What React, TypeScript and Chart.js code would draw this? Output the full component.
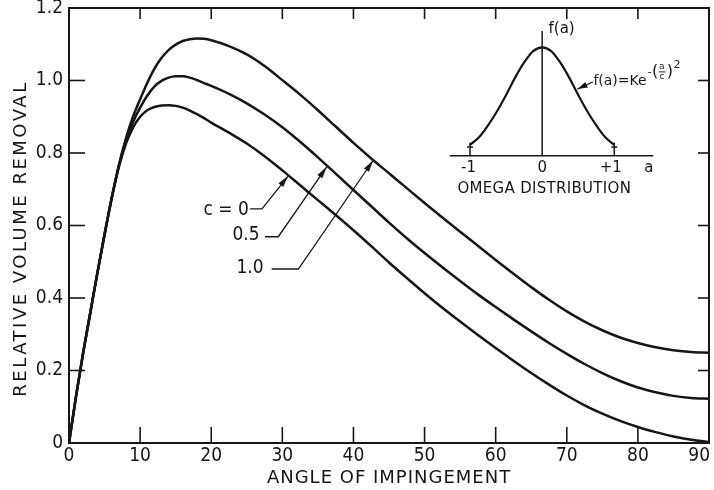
import React, { useEffect, useRef } from 'react';
import { Chart, registerables } from 'chart.js';

Chart.register(...registerables);

// ---------- data ----------
const angles = [0, 1, 2, 3, 4, 5, 6, 7, 8, 9, 10, 11, 12, 13, 14, 15, 16, 17, 18, 19, 20,
  22.5, 25, 27.5, 30, 32.5, 35, 37.5, 40, 42.5, 45, 47.5, 50, 52.5, 55, 57.5, 60, 62.5, 65,
  67.5, 70, 72.5, 75, 77.5, 80, 82.5, 85, 87.5, 90];

const removalC0 = [0, 0.13, 0.25, 0.36, 0.47, 0.575, 0.675, 0.76, 0.825, 0.87, 0.9, 0.918,
  0.927, 0.931, 0.932, 0.93, 0.925, 0.917, 0.907, 0.896, 0.884,
  0.856, 0.826, 0.791, 0.752, 0.711, 0.67, 0.629, 0.587, 0.543, 0.498, 0.455, 0.413, 0.373, 0.335,
  0.298, 0.262, 0.227, 0.193, 0.161, 0.131, 0.104, 0.081, 0.061, 0.044, 0.03, 0.018, 0.009, 0.003];

const removalC05 = [0, 0.13, 0.25, 0.36, 0.47, 0.575, 0.675, 0.765, 0.835, 0.885, 0.925, 0.958,
  0.983, 0.999, 1.008, 1.012, 1.012, 1.008, 1.001, 0.993, 0.985,
  0.963, 0.937, 0.906, 0.871, 0.831, 0.788, 0.743, 0.698, 0.653, 0.608, 0.565, 0.524, 0.485, 0.447,
  0.41, 0.375, 0.341, 0.308, 0.276, 0.246, 0.218, 0.193, 0.171, 0.153, 0.14, 0.13, 0.124, 0.122];

const removalC10 = [0, 0.13, 0.25, 0.36, 0.47, 0.575, 0.675, 0.765, 0.84, 0.9, 0.948, 0.993,
  1.032, 1.062, 1.084, 1.099, 1.109, 1.114, 1.116, 1.115, 1.111,
  1.095, 1.072, 1.04, 1.001, 0.961, 0.918, 0.873, 0.828, 0.785, 0.744, 0.703, 0.662, 0.622, 0.583,
  0.544, 0.505, 0.467, 0.43, 0.395, 0.363, 0.335, 0.311, 0.291, 0.276, 0.264, 0.256, 0.251, 0.249];

const xTickValues = [0, 10, 20, 30, 40, 50, 60, 70, 80, 90];
const yTickValues = [0, 0.2, 0.4, 0.6, 0.8, 1.0, 1.2];

const curveLabels = ['c = 0', '0.5', '1.0'];

// inset: omega distribution
const omegaA = [-1, -0.875, -0.75, -0.625, -0.5, -0.375, -0.25, -0.125, 0, 0.125, 0.25, 0.375,
  0.5, 0.625, 0.75, 0.875, 1];
const omegaF = [0.1, 0.17, 0.28, 0.41, 0.56, 0.72, 0.86, 0.965, 1, 0.965, 0.86, 0.72, 0.56,
  0.41, 0.28, 0.17, 0.1];
const insetTickLabels = ['-1', '0', '+1'];
const insetTickValues = [-1, 0, 1];

// ---------- annotation placement (data coordinates) ----------
const curveLabelAnchors = [
  { tx: 22.1, ty: 0.643, lx1: 25.45, lx2: 27.14, ly: 0.646, ax: 30.84, ay: 0.737 },
  { tx: 24.9, ty: 0.574, lx1: 27.56, lx2: 29.43, ly: 0.569, ax: 36.24, ay: 0.762 },
  { tx: 25.45, ty: 0.483, lx1: 28.5, lx2: 32.25, ly: 0.48, ax: 42.79, ay: 0.78 },
];

const INK = '#161616';
const TEXT_FONT = "'DejaVu Sans', sans-serif";
const NUM_FONT = "'Liberation Sans Narrow', 'DejaVu Sans Condensed', 'Liberation Sans', sans-serif";

function arrow(ctx: CanvasRenderingContext2D, fx: number, fy: number, tx: number, ty: number, len = 11, w = 3) {
  const ang = Math.atan2(ty - fy, tx - fx);
  const c = Math.cos(ang), s = Math.sin(ang);
  const bx = tx - len * c, by = ty - len * s;
  ctx.beginPath();
  ctx.moveTo(tx, ty);
  ctx.lineTo(bx - w * s, by + w * c);
  ctx.lineTo(bx + w * s, by - w * c);
  ctx.closePath();
  ctx.fill();
}

function seg(ctx: CanvasRenderingContext2D, x1: number, y1: number, x2: number, y2: number) {
  ctx.beginPath();
  ctx.moveTo(x1, y1);
  ctx.lineTo(x2, y2);
  ctx.stroke();
}

const decorPlugin = {
  id: 'decor',
  afterDraw(chart: any) {
    const { ctx, chartArea: ca, scales } = chart;
    const xs = scales.x, ys = scales.y, xi = scales.xi, yi = scales.yi;
    ctx.save();
    ctx.strokeStyle = INK;
    ctx.fillStyle = INK;
    ctx.lineCap = 'butt';

    // frame
    ctx.lineWidth = 2;
    ctx.strokeRect(ca.left, ca.top, ca.right - ca.left, ca.bottom - ca.top);

    // inward ticks
    ctx.lineWidth = 1.6;
    for (const v of xTickValues) {
      if (v <= xs.min || v >= xs.max) continue;
      const px = xs.getPixelForValue(v);
      seg(ctx, px, ca.bottom, px, ca.bottom - 16);
      seg(ctx, px, ca.top, px, ca.top + 11);
    }
    for (const v of yTickValues) {
      if (v <= ys.min || v >= ys.max) continue;
      const py = ys.getPixelForValue(v);
      seg(ctx, ca.left, py, ca.left + 16, py);
      seg(ctx, ca.right, py, ca.right - 11, py);
    }

    // x tick labels
    ctx.font = `19px ${NUM_FONT}`;
    ctx.textBaseline = 'middle';
    xTickValues.forEach((v, i) => {
      const px = xs.getPixelForValue(v);
      const last = i === xTickValues.length - 1;
      ctx.textAlign = last ? 'right' : 'center';
      ctx.fillText(String(v), last ? px + 1 : px, ca.bottom + 13);
    });

    // axis titles
    ctx.font = `18px ${TEXT_FONT}`;
    ctx.textAlign = 'center';
    (ctx as any).letterSpacing = '1px';
    ctx.fillText('ANGLE OF IMPINGEMENT', (ca.left + ca.right) / 2, ca.bottom + 35);
    (ctx as any).letterSpacing = '2.5px';
    ctx.save();
    ctx.translate(21, (ca.top + ca.bottom) / 2 + 13);
    ctx.rotate(-Math.PI / 2);
    ctx.fillText('RELATIVE VOLUME REMOVAL', 0, 0);
    ctx.restore();
    (ctx as any).letterSpacing = '0px';

    // curve labels with leaders
    ctx.font = `19px ${NUM_FONT}`;
    ctx.lineWidth = 1.3;
    curveLabelAnchors.forEach((a, i) => {
      ctx.textAlign = 'center';
      ctx.fillText(curveLabels[i], xs.getPixelForValue(a.tx), ys.getPixelForValue(a.ty));
      const x1 = xs.getPixelForValue(a.lx1), x2 = xs.getPixelForValue(a.lx2);
      const yl = ys.getPixelForValue(a.ly);
      const axp = xs.getPixelForValue(a.ax), ayp = ys.getPixelForValue(a.ay);
      ctx.beginPath();
      ctx.moveTo(x1, yl);
      ctx.lineTo(x2, yl);
      ctx.lineTo(axp, ayp);
      ctx.stroke();
      arrow(ctx, x2, yl, axp, ayp, 12, 3);
    });

    // ---------- inset ----------
    ctx.lineWidth = 1.5;
    const y0 = yi.getPixelForValue(0);
    seg(ctx, xi.getPixelForValue(-1.28), y0, xi.getPixelForValue(1.54), y0);
    seg(ctx, xi.getPixelForValue(0), y0, xi.getPixelForValue(0), yi.getPixelForValue(1.15));
    for (const v of [-1, 1]) {
      const px = xi.getPixelForValue(v);
      seg(ctx, px, y0, px, yi.getPixelForValue(0.12));
      seg(ctx, px - 3, yi.getPixelForValue(0.08), px + 3, yi.getPixelForValue(0.08));
    }
    ctx.font = `15px ${TEXT_FONT}`;
    ctx.textAlign = 'center';
    ctx.fillText('f(a)', xi.getPixelForValue(0.27), yi.getPixelForValue(1.17));
    const tickLabelOffsets = [-0.02, 0, -0.05];
    insetTickValues.forEach((v, i) => {
      ctx.fillText(insetTickLabels[i], xi.getPixelForValue(v + tickLabelOffsets[i]), yi.getPixelForValue(-0.116));
    });
    ctx.fillText('a', xi.getPixelForValue(1.48), yi.getPixelForValue(-0.116));
    (ctx as any).letterSpacing = '0.3px';
    ctx.fillText('OMEGA DISTRIBUTION', xi.getPixelForValue(0.03), yi.getPixelForValue(-0.307));
    (ctx as any).letterSpacing = '0px';

    // formula
    ctx.font = `14px ${TEXT_FONT}`;
    ctx.textAlign = 'left';
    const fx = xi.getPixelForValue(0.71), fy = yi.getPixelForValue(0.69);
    ctx.fillText('f(a)=Ke', fx, fy);
    let cx = fx + ctx.measureText('f(a)=Ke').width + 1;
    const sy = fy - 9;
    ctx.font = `11px ${TEXT_FONT}`;
    ctx.fillText('-', cx, sy);
    cx += ctx.measureText('-').width + 0.5;
    ctx.font = `16px ${TEXT_FONT}`;
    ctx.fillText('(', cx, sy);
    cx += ctx.measureText('(').width + 0.5;
    ctx.font = `9px ${TEXT_FONT}`;
    ctx.textAlign = 'center';
    ctx.fillText('a', cx + 3, sy - 5);
    ctx.fillText('c', cx + 3, sy + 5);
    ctx.lineWidth = 1;
    seg(ctx, cx, sy, cx + 6.5, sy);
    cx += 8;
    ctx.textAlign = 'left';
    ctx.font = `16px ${TEXT_FONT}`;
    ctx.fillText(')', cx, sy);
    cx += ctx.measureText(')').width + 0.5;
    ctx.font = `11px ${TEXT_FONT}`;
    ctx.fillText('2', cx, sy - 7);
    // formula arrow
    ctx.lineWidth = 1.3;
    const ax1 = xi.getPixelForValue(0.70), ay1 = yi.getPixelForValue(0.68);
    const ax2 = xi.getPixelForValue(0.49), ay2 = yi.getPixelForValue(0.615);
    seg(ctx, ax1, ay1, ax2, ay2);
    arrow(ctx, ax1, ay1, ax2, ay2, 10, 3);

    ctx.restore();
  },
};

export default function App() {
  const ref = useRef<HTMLCanvasElement | null>(null);

  useEffect(() => {
    document.body.style.margin = '0';
    document.body.style.background = '#ffffff';
    const canvas = ref.current;
    if (!canvas) return;

    const lineStyle = {
      borderColor: INK,
      borderWidth: 2.5,
      pointRadius: 0,
      cubicInterpolationMode: 'monotone' as const,
      fill: false,
    };

    const chart = new Chart(canvas, {
      type: 'line',
      data: {
        datasets: [
          { ...lineStyle, label: 'c = 0', data: angles.map((a, i) => ({ x: a, y: removalC0[i] })), xAxisID: 'x', yAxisID: 'y' },
          { ...lineStyle, label: 'c = 0.5', data: angles.map((a, i) => ({ x: a, y: removalC05[i] })), xAxisID: 'x', yAxisID: 'y' },
          { ...lineStyle, label: 'c = 1.0', data: angles.map((a, i) => ({ x: a, y: removalC10[i] })), xAxisID: 'x', yAxisID: 'y' },
          { ...lineStyle, label: 'omega', data: omegaA.map((a, i) => ({ x: a, y: omegaF[i] })), xAxisID: 'xi', yAxisID: 'yi', borderWidth: 2.2 },
        ],
      },
      options: {
        responsive: false,
        animation: false,
        devicePixelRatio: 1,
        layout: { padding: { top: 8, right: 5, left: 0, bottom: 0 } },
        plugins: { legend: { display: false }, tooltip: { enabled: false } },
        scales: {
          x: {
            type: 'linear',
            position: 'bottom',
            min: 0,
            max: 90,
            afterBuildTicks: (s: any) => { s.ticks = xTickValues.map((v) => ({ value: v })); },
            ticks: { display: false },
            grid: { display: false },
            border: { display: false },
            afterFit: (s: any) => { s.height = 47; s.paddingLeft = 0; s.paddingRight = 0; },
          },
          y: {
            type: 'linear',
            position: 'left',
            min: 0,
            max: 1.2,
            afterBuildTicks: (s: any) => { s.ticks = yTickValues.map((v) => ({ value: v })); },
            ticks: {
              color: INK,
              padding: 6,
              font: { family: NUM_FONT, size: 19 },
              callback: (v: any) => (Number(v) === 0 ? '0' : Number(v).toFixed(1)),
            },
            grid: { display: false, drawTicks: false },
            border: { display: false },
            afterFit: (s: any) => { s.width = 69; s.paddingTop = 0; s.paddingBottom = 0; },
          },
          xi: { type: 'linear', display: false, min: -6.558, max: 2.3125 },
          yi: { type: 'linear', display: false, min: -2.65, max: 1.3625 },
        },
      } as any,
      plugins: [decorPlugin],
    });

    return () => chart.destroy();
  }, []);

  return (
    <div style={{ width: 714, height: 490, position: 'relative', overflow: 'hidden', background: '#fff' }}>
      <canvas ref={ref} width={714} height={490} style={{ display: 'block' }} />
    </div>
  );
}
